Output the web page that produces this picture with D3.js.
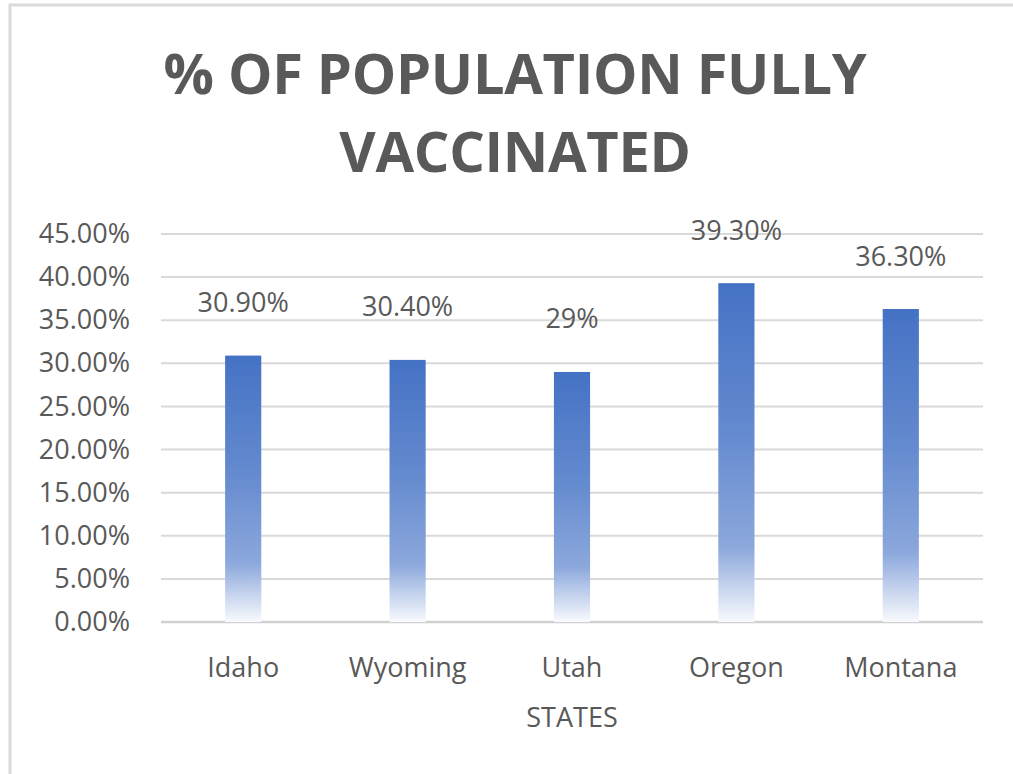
<!DOCTYPE html>
<html>
<head>
<meta charset="utf-8">
<script src="https://cdn.jsdelivr.net/npm/d3@7"></script>
<style>
  html, body { margin: 0; padding: 0; background: #ffffff; }
  svg { display: block; }
  text { font-family: "Open Sans", "Noto Sans", sans-serif; fill: #595959; }
</style>
</head>
<body>
<svg id="chart" width="1013" height="774"></svg>
<script>
// ---- data ----
const states = ["Idaho", "Wyoming", "Utah", "Oregon", "Montana"];
const values = [0.309, 0.304, 0.29, 0.393, 0.363];
const valueLabels = ["30.90%", "30.40%", "29%", "39.30%", "36.30%"];
const yTicks = [0, 0.05, 0.10, 0.15, 0.20, 0.25, 0.30, 0.35, 0.40, 0.45];
const titleLines = ["% OF POPULATION FULLY", "VACCINATED"];
const xAxisTitle = "STATES";

// ---- layout ----
const W = 1013, H = 774;
const plot = { left: 161, right: 983, top: 234, bottom: 622 };

const svg = d3.select("#chart");
svg.append("rect").attr("width", W).attr("height", H).attr("fill", "#ffffff");

// outer chart border (only top & left visible in crop)
svg.append("path")
  .attr("d", `M10,${H + 5} L10,5 L${W + 5},5`)
  .attr("fill", "none")
  .attr("stroke", "#d9d9d9")
  .attr("stroke-width", 3);

// gradient
const defs = svg.append("defs");
const grad = defs.append("linearGradient")
  .attr("id", "barGrad").attr("x1", 0).attr("y1", 0).attr("x2", 0).attr("y2", 1);
[[0, "#4472c4"], [0.45, "#658bcf"], [0.78, "#8ca8dc"], [1, "#f8fafd"]].forEach(([o, c]) => {
  grad.append("stop").attr("offset", o).attr("stop-color", c);
});

const x = d3.scaleBand().domain(states).range([plot.left, plot.right])
  .paddingInner(0.78).paddingOuter(0.39);
const y = d3.scaleLinear().domain([0, 0.45]).range([plot.bottom, plot.top]);

// gridlines
svg.append("g").selectAll("line").data(yTicks).join("line")
  .attr("x1", plot.left).attr("x2", plot.right)
  .attr("y1", d => y(d)).attr("y2", d => y(d))
  .attr("stroke", d => d === 0 ? "#d0d0d0" : "#d9d9d9")
  .attr("stroke-width", d => d === 0 ? 2.5 : 2);

// y axis labels
const yAxis = d3.axisLeft(y).tickValues(yTicks).tickFormat(d3.format(".2%"))
  .tickSize(0).tickPadding(31);
const gy = svg.append("g").attr("transform", `translate(${plot.left},0)`).call(yAxis);
gy.select(".domain").remove();
gy.selectAll("text").style("font-size", "27px").attr("fill", "#595959")
  .style("font-family", "'Open Sans', sans-serif");

// x axis labels
const xAxis = d3.axisBottom(x).tickSize(0).tickPadding(36);
const gx = svg.append("g").attr("transform", `translate(0,${plot.bottom})`).call(xAxis);
gx.select(".domain").remove();
gx.selectAll("text").style("font-size", "27px").attr("fill", "#595959")
  .style("font-family", "'Open Sans', sans-serif");

// bars
svg.append("g").selectAll("rect").data(states).join("rect")
  .attr("x", d => x(d))
  .attr("width", x.bandwidth())
  .attr("y", (d, i) => y(values[i]))
  .attr("height", (d, i) => y(0) - y(values[i]))
  .attr("fill", "url(#barGrad)");

// data labels
svg.append("g").selectAll("text").data(states).join("text")
  .attr("x", d => x(d) + x.bandwidth() / 2)
  .attr("y", (d, i) => y(values[i]) - 54)
  .attr("text-anchor", "middle")
  .attr("dominant-baseline", "central")
  .style("font-size", "27px")
  .text((d, i) => valueLabels[i]);

// title
svg.append("g").selectAll("text").data(titleLines).join("text")
  .attr("x", 515)
  .attr("y", (d, i) => 94 + i * 78)
  .attr("text-anchor", "middle")
  .style("font-size", "56px")
  .style("font-weight", "bold")
  .style("letter-spacing", "-0.3px")
  .text(d => d);

// x axis title
svg.append("text")
  .attr("x", (plot.left + plot.right) / 2)
  .attr("y", 727)
  .attr("text-anchor", "middle")
  .style("font-size", "27px")
  .text(xAxisTitle);
</script>
</body>
</html>
